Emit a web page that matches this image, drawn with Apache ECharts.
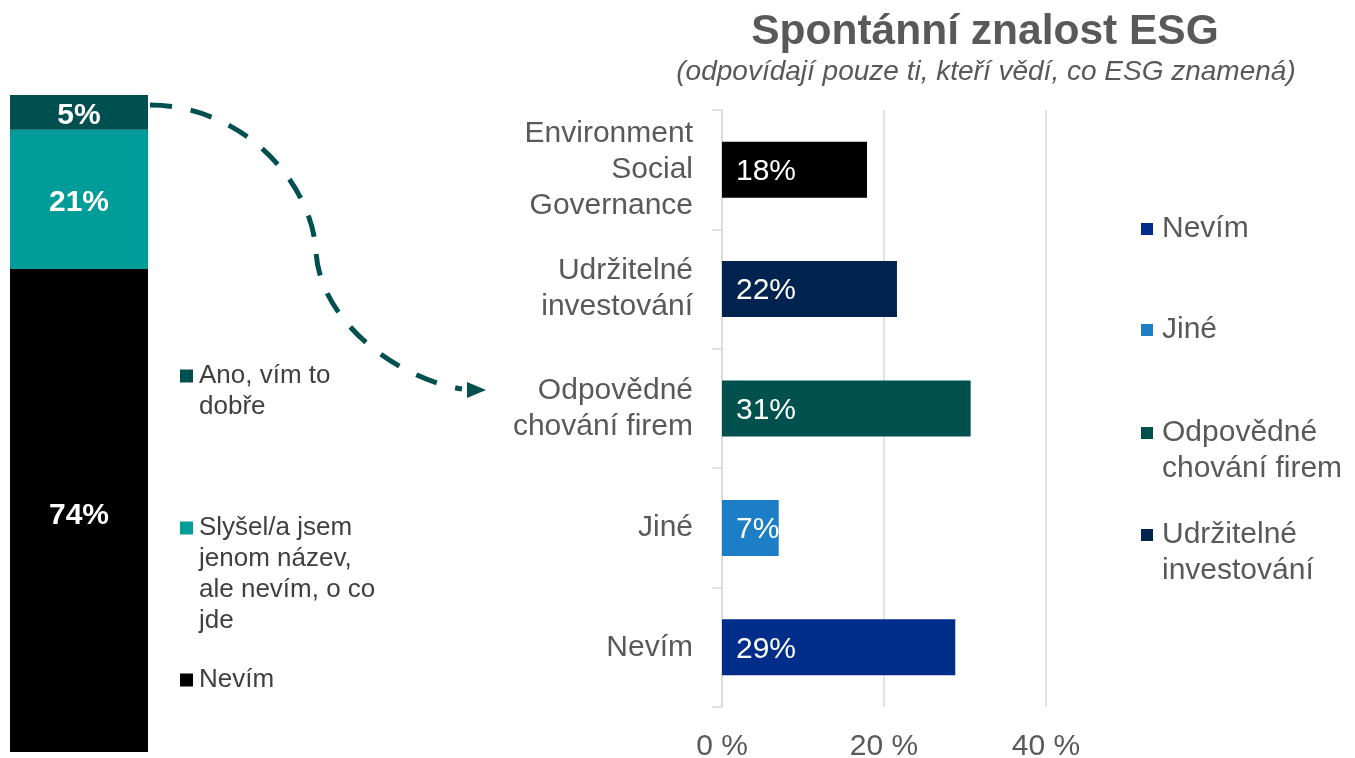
<!DOCTYPE html>
<html>
<head>
<meta charset="utf-8">
<title>Spontánní znalost ESG</title>
<script src="https://cdn.jsdelivr.net/npm/echarts@6/dist/echarts.min.js"></script>
<style>
    html, body { margin: 0; padding: 0; background: #fff; }
    #chart { width: 1355px; height: 758px; }
</style>
</head>
<body>
<div id="chart"></div>
<script>
    // levý sloupec - povědomí o ESG
    const awareNames = ['Nevím', 'Slyšel/a jsem jenom název, ale nevím, o co jde', 'Ano, vím to dobře']
    const awareValues = [73.5, 21.2, 5.3]
    const awareColors = ['#000000', '#009c9a', '#00504f']
    const awareLegendLabels = ['Nevím', 'Slyšel/a jsem\njenom název,\nale nevím, o co\njde', 'Ano, vím to\ndobře']

    // pravý graf - spontánní znalost
    const knowCategories = ['Environment\nSocial\nGovernance', 'Udržitelné\ninvestování', 'Odpovědné\nchování firem', 'Jiné', 'Nevím']
    const knowNames = ['Environment Social Governance', 'Udržitelné investování', 'Odpovědné chování firem', 'Jiné', 'Nevím']
    const knowValues = [17.9, 21.6, 30.7, 7.0, 28.8]
    const knowColors = ['#000000', '#00234f', '#00504e', '#1c7fc6', '#002c8a']
    const knowLegendLabels = ['', 'Udržitelné\ninvestování', 'Odpovědné\nchování firem', 'Jiné', 'Nevím']
    const xTicks = [0, 20, 40]

    const FONT = '"Liberation Sans", Arial, sans-serif'

    let chart = echarts.init(document.getElementById('chart'))

    // jedna legenda = jedna položka, aby šly rozmístit jako v originále
    // prázdné řádky nahoře => značka sedí u prvního řádku textu
    function oneLegend(name, label, color, left, markerY, lh, size, fontSize, textColor, padLeft) {
        let lines = label.split('\n').length
        let text = '\n'.repeat(lines - 1) + label
        return {
            show: true,
            selectedMode: false,
            orient: 'vertical',
            left: left,
            top: markerY - (2 * lines - 1) * lh / 2,
            padding: 0,
            itemWidth: size,
            itemHeight: size,
            icon: 'rect',
            data: [{name: name, itemStyle: {color: color, borderWidth: 0}}],
            formatter: () => text,
            textStyle: {
                fontFamily: FONT,
                fontSize: fontSize,
                lineHeight: lh,
                color: textColor,
                padding: [0, 0, 0, padLeft],
                backgroundColor: 'rgba(255,255,255,0)'
            }
        }
    }

    let legends = [
        oneLegend(awareNames[2], awareLegendLabels[2], awareColors[2], 180, 376, 31, 13, 26, '#404040', 1),
        oneLegend(awareNames[1], awareLegendLabels[1], awareColors[1], 180, 528, 31, 13, 26, '#404040', 1),
        oneLegend(awareNames[0], awareLegendLabels[0], awareColors[0], 180, 680, 31, 13, 26, '#404040', 1),
        oneLegend(knowNames[4], knowLegendLabels[4], knowColors[4], 1141, 229, 36, 12, 30, '#595959', 4),
        oneLegend(knowNames[3], knowLegendLabels[3], knowColors[3], 1141, 330, 36, 12, 30, '#595959', 4),
        oneLegend(knowNames[2], knowLegendLabels[2], knowColors[2], 1141, 433, 36, 12, 30, '#595959', 4),
        oneLegend(knowNames[1], knowLegendLabels[1], knowColors[1], 1141, 535, 36, 12, 30, '#595959', 4)
    ]

    let series = []
    awareNames.forEach((name, i) => {
        series.push({
            name: name,
            type: 'bar',
            xAxisIndex: 0,
            yAxisIndex: 0,
            stack: 'aware',
            barWidth: '100%',
            data: [awareValues[i]],
            itemStyle: {color: awareColors[i]},
            label: {
                show: true,
                position: 'inside',
                offset: [0, i === 0 ? 5 : 3],
                formatter: p => Math.round(p.value) + '%',
                color: '#fff',
                fontFamily: FONT,
                fontWeight: 'bold',
                fontSize: 30
            }
        })
    })
    // každá kategorie vlastní řada, hodnota jen na svém řádku
    knowNames.forEach((name, i) => {
        series.push({
            name: name,
            type: 'bar',
            xAxisIndex: 1,
            yAxisIndex: 1,
            stack: 'know',
            barWidth: 56,
            data: knowCategories.map((c, j) => j === i ? knowValues[i] : '-'),
            itemStyle: {color: knowColors[i]},
            label: {
                show: true,
                position: 'insideLeft',
                distance: 14,
                offset: [0, 2],
                formatter: p => Math.round(p.value) + '%',
                color: '#fff',
                fontFamily: FONT,
                fontSize: 30
            }
        })
    })

    let option = {
        animation: false,
        backgroundColor: '#fff',
        legend: legends,
        grid: [
            {left: 10, width: 138, top: 95, bottom: 6, outerBoundsMode: 'none'},
            {left: 722, right: 309, top: 110, bottom: 51, outerBoundsMode: 'none'}
        ],
        xAxis: [
            {
                gridIndex: 0,
                type: 'category',
                data: [''],
                show: false
            },
            {
                gridIndex: 1,
                type: 'value',
                min: xTicks[0],
                max: xTicks[xTicks.length - 1],
                interval: xTicks[1] - xTicks[0],
                axisLine: {show: false},
                axisTick: {show: false},
                axisLabel: {
                    formatter: '{value} %',
                    fontFamily: FONT,
                    fontSize: 30,
                    color: '#595959',
                    margin: 25
                },
                splitLine: {
                    show: true,
                    lineStyle: {color: '#d9d9d9', width: 1.5}
                }
            }
        ],
        yAxis: [
            {
                gridIndex: 0,
                type: 'value',
                min: 0,
                max: 100,
                show: false
            },
            {
                gridIndex: 1,
                type: 'category',
                inverse: true,
                data: knowCategories,
                axisLine: {show: true, lineStyle: {color: '#d9d9d9', width: 1.5}},
                axisTick: {show: true, length: 10, lineStyle: {color: '#d9d9d9', width: 1.5}},
                axisLabel: {
                    fontFamily: FONT,
                    fontSize: 30,
                    lineHeight: 36,
                    color: '#595959',
                    margin: 29,
                    align: 'right',
                    padding: [4, 0, 0, 0]
                }
            }
        ],
        graphic: [
            {
                type: 'text',
                x: 985,
                y: 32,
                style: {
                    text: 'Spontánní znalost ESG',
                    font: 'bold 42.5px ' + FONT,
                    fill: '#595959',
                    textAlign: 'center',
                    textVerticalAlign: 'middle'
                }
            },
            {
                type: 'text',
                x: 986,
                y: 72,
                style: {
                    text: '(odpovídají pouze ti, kteří vědí, co ESG znamená)',
                    font: 'italic 28px ' + FONT,
                    fill: '#595959',
                    textAlign: 'center',
                    textVerticalAlign: 'middle'
                }
            },
            // přerušovaná šipka od "vím to dobře" k pravému grafu (dva oblouky)
            {
                type: 'bezierCurve',
                shape: {x1: 150, y1: 105, cpx1: 240, cpy1: 105, cpx2: 312, cpy2: 180, x2: 316, y2: 252},
                style: {stroke: '#00504f', lineWidth: 5, lineDash: [22, 19], fill: null}
            },
            {
                type: 'bezierCurve',
                shape: {x1: 316, y1: 252, cpx1: 320, cpy1: 320, cpx2: 395, cpy2: 378, x2: 462, y2: 389},
                style: {stroke: '#00504f', lineWidth: 5, lineDash: [22, 19], lineDashOffset: 39, fill: null}
            },
            {
                type: 'polygon',
                shape: {points: [[467, 382], [486, 390], [467, 398]]},
                style: {fill: '#00504f'}
            }
        ],
        series: series
    }

    chart.setOption(option)
</script>
</body>
</html>
